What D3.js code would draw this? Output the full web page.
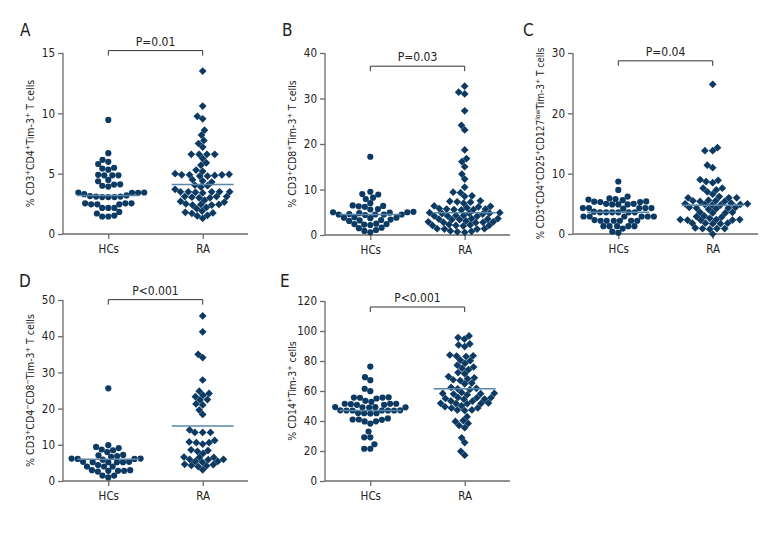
<!DOCTYPE html>
<html><head><meta charset="utf-8">
<script src="https://cdn.jsdelivr.net/npm/d3@7"></script>
<style>
body{margin:0;background:#fff;}
svg text{font-family:'Liberation Sans Narrow','DejaVu Sans Condensed','Roboto Condensed',sans-serif;fill:#222;}
</style></head>
<body><svg id="c" width="780" height="540"></svg>
<script>
const categories = ["HCs","RA"];
const panelLetters = ["A","B","C","D","E"];
const yMax = [15,40,30,50,120];
const yTicks = [[0,5,10,15],[0,10,20,30,40],[0,10,20,30],[0,10,20,30,40,50],[0,20,40,60,80,100,120]];
const pLabels = ["P=0.01","P=0.03","P=0.04","P<0.001","P<0.001"];
const yTitles = [
  "% CD3^{+}CD4^{+}Tim-3^{+} T cells",
  "% CD3^{+}CD8^{+}Tim-3^{+} T cells",
  "% CD3^{+}CD4^{+}CD25^{+}CD127^{low}Tim-3^{+} T cells",
  "% CD3^{+}CD4^{−}CD8^{−}Tim-3^{+} T cells",
  "% CD14^{+}Tim-3^{+} cells"
];
const medianHCs = [3.2,4.5,3.6,6.0,47];
const medianRA = [4.1,4.9,4.75,15.2,61.5];
const bracketY = [15.2,37.1,28.7,50.1,116];

const aHCs = [9.45,6.7,6.15,5.98,5.8,5.43,5.49,5.33,4.86,4.86,4.86,4.9,4.48,4.37,4.12,4.0,4.1,3.93,3.44,3.44,3.42,3.42,3.14,3.1,3.06,3.06,3.2,3.3,3.06,3.1,2.54,2.46,2.54,2.46,2.54,2.46,2.16,2.16,2.16,1.83,1.7,1.53,1.45,1.45];
const aRA = [13.5,10.6,9.75,9.55,8.6,8.2,7.75,7.5,7.2,6.6,6.6,6.6,6.6,6.25,5.9,5.7,5.3,5.2,5.0,4.95,4.9,4.9,4.85,4.8,4.8,4.9,4.5,4.4,4.3,4.05,4.0,3.9,3.7,3.5,3.5,3.5,3.45,3.4,3.5,3.5,3.1,3.1,3.05,3.0,3.0,3.1,2.8,2.7,2.65,2.5,2.45,2.45,2.4,2.4,2.2,2.1,1.9,1.8,1.75,1.7,1.55,1.5,1.3];
const bHCs = [17.2,9.5,9.0,8.9,8.2,7.9,7.0,6.5,6.3,6.4,6.2,5.7,5.6,5.0,5.0,4.9,4.8,5.1,4.6,4.5,4.5,4.5,4.4,4.5,3.9,3.8,3.7,3.8,3.3,3.2,3.1,3.4,2.5,2.3,2.4,2.2,2.4,1.5,1.6,0.9,0.6,1.1];
const bRA = [32.7,31.4,31.0,27.3,24.1,23.1,18.7,16.8,16.1,15.0,13.4,12.3,10.5,9.4,9.3,8.6,8.5,7.5,7.3,7.2,7.4,7.0,6.4,6.3,6.2,6.0,5.7,5.6,5.7,5.6,5.5,5.8,4.9,4.8,4.8,4.7,4.9,4.6,4.3,4.2,4.3,4.2,4.1,3.6,3.5,3.5,3.4,3.6,3.4,2.9,2.8,2.8,2.7,2.9,3.1,2.1,2.1,2.0,2.1,2.2,1.4,1.3,1.3,1.4,2.3,0.8,0.7,0.6,0.9];
const cHCs = [8.7,7.3,6.2,5.9,5.8,5.7,5.6,5.4,5.3,5.35,5.3,4.9,4.9,5.0,5.0,4.9,4.3,4.3,4.3,4.2,4.3,4.3,3.6,3.6,3.6,3.6,3.7,3.6,3.6,2.9,2.9,2.9,2.9,2.9,2.9,2.2,2.2,2.2,2.2,2.2,2.2,2.3,1.3,1.3,1.3,1.3,1.3,0.9,0.4,0.2];
const cRA = [24.8,14.3,13.8,13.8,11.4,11.0,9.0,8.9,8.7,8.5,7.6,7.6,7.3,7.0,6.6,6.2,6.0,6.0,6.0,5.6,5.5,5.4,5.5,5.4,5.0,5.0,4.8,4.9,4.8,4.9,5.1,4.4,4.3,4.2,4.1,4.3,4.4,3.6,3.5,3.5,3.6,3.0,2.9,2.8,2.6,2.4,2.3,2.4,2.3,2.4,2.3,1.8,1.8,1.7,1.7,1.8,1.0,0.9,0.9,0.8,0.9,0.0];
const dHCs = [25.6,9.9,9.4,9.1,8.5,8.0,8.7,7.1,6.7,6.9,7.2,6.2,6.1,5.9,6.1,6.2,5.2,5.3,5.2,5.2,5.2,5.3,4.0,4.0,4.4,4.0,2.8,2.6,2.8,2.8,3.0,3.0,1.5,1.0,1.5];
const dRA = [45.6,41.2,35.0,34.1,27.9,24.8,24.2,23.7,23.3,22.5,22.4,21.3,21.0,19.6,18.4,14.1,13.4,13.4,13.4,11.2,10.6,10.6,10.2,10.8,8.4,8.6,8.2,7.6,6.5,6.0,6.0,5.9,6.5,6.6,5.4,5.4,5.2,4.5,4.0,4.2,4.3,4.6,3.1];
const eHCs = [76.3,69.2,67.2,61.5,59.9,55.8,55.5,55.0,55.6,55.6,53.5,52.8,51.5,50.8,50.8,51.5,51.2,51.5,49.1,49.2,49.0,49.1,49.3,47.0,47.0,47.1,47.0,47.0,47.1,47.0,45.2,45.3,45.2,45.0,41.7,41.0,41.0,39.8,39.7,40.8,38.3,33.0,29.1,29.1,24.5,21.5,21.5];
const eRA = [96.7,95.6,94.6,91.4,90.7,89.6,84.0,83.3,83.5,83.0,80.2,80.6,78.5,77.2,76.0,75.2,74.2,72.3,71.5,69.6,68.8,68.1,67.5,67.0,65.3,64.8,62.4,61.5,61.8,61.0,58.4,58.2,58.5,58.0,57.5,59.0,55.5,55.5,55.0,53.2,53.4,54.5,54.6,55.7,52.0,51.8,51.6,51.5,51.7,49.5,48.7,48.6,50.1,47.3,47.4,47.0,42.9,39.7,40.3,38.4,37.0,35.5,28.8,25.6,19.8,17.2];
const seriesHCs = [aHCs,bHCs,cHCs,dHCs,eHCs];
const seriesRA = [aRA,bRA,cRA,dRA,eRA];

// layout
const axisX = [63,325,573,63,325];
const topY = [53,53,53,300,301];
const botY = [234,235,234,481,481];
const letterX = [20,282,523,19,280];
const letterY = [36,36,36,287,287];
const titleSize = [10.5,10.5,10,10.5,10.5];
const axisLen = 185;
const dotColor = "#0c3a62", medColor = "#5a86a8", axisColor = "#6b6b6b";
const svg = d3.select("#c");

// beeswarm: metric "l2" for circles, "l1" for diamonds
function swarm(vals, y, D, metric){
  const pts = vals.map(v=>({v, y:y(v)})).sort((a,b)=>b.y-a.y);
  const placed=[];
  const sep = dy => metric==="l1" ? D-Math.abs(dy) : Math.sqrt(D*D-dy*dy);
  for(const p of pts){
    const near = placed.filter(q=>Math.abs(q.y-p.y)<D);
    const cands=[0];
    near.forEach(q=>{const dx=sep(q.y-p.y); cands.push(q.x+dx+0.01,q.x-dx-0.01);});
    cands.sort((a,b)=>Math.abs(a)-Math.abs(b) || a-b);
    for(const c of cands){
      if(near.every(q=>Math.abs(q.x-c) >= sep(q.y-p.y)-0.05)){p.x=c;break;}
    }
    placed.push(p);
  }
  return placed;
}

function richText(sel, str, fs){
  const parts = str.split(/(\^\{[^}]*\})/).filter(s=>s.length);
  parts.forEach(s=>{
    if(s.startsWith("^{")){
      sel.append("tspan").attr("font-size", fs*0.68).attr("baseline-shift","super").text(s.slice(2,-1));
    } else sel.append("tspan").attr("font-size", fs).text(s);
  });
}

for(let i=0;i<5;i++){
  const g = svg.append("g").attr("transform",`translate(${axisX[i]},0)`);
  const y = d3.scaleLinear().domain([0,yMax[i]]).range([botY[i],topY[i]]);
  const x = d3.scalePoint().domain(categories).range([0,axisLen]).padding(0.48);

  const ya = g.append("g").call(d3.axisLeft(y).tickValues(yTicks[i]).tickSize(5).tickPadding(3));
  const xa = g.append("g").attr("transform",`translate(0,${botY[i]})`).call(d3.axisBottom(x).tickSize(5).tickPadding(6));
  [ya,xa].forEach(a=>{
    a.select(".domain").attr("stroke",axisColor).attr("stroke-width",1.3);
    a.selectAll(".tick line").attr("stroke",axisColor).attr("stroke-width",1.3);
    a.selectAll("text").attr("font-size",11.5).attr("fill","#222")
      .style("font-family","'Liberation Sans Narrow','DejaVu Sans Condensed',sans-serif");
  });
  xa.select(".domain").attr("d",`M0,0H${axisLen}`);
  ya.select(".domain").attr("d",`M0,${botY[i]}V${topY[i]}`);

  svg.append("text").attr("x",letterX[i]).attr("y",letterY[i]).attr("font-size",17).text(panelLetters[i]);

  const yt = g.append("text").attr("transform",`translate(-29,${(topY[i]+botY[i])/2}) rotate(-90)`)
    .attr("text-anchor","middle").attr("font-size",titleSize[i]);
  richText(yt, yTitles[i], titleSize[i]);

  const by = y(bracketY[i]);
  g.append("path").attr("d",`M${x("HCs")},${by+5}V${by}H${x("RA")}V${by+5}`)
    .attr("fill","none").attr("stroke","#333").attr("stroke-width",1);
  g.append("text").attr("x",(x("HCs")+x("RA"))/2).attr("y",by-5).attr("text-anchor","middle")
    .attr("font-size",12).text(pLabels[i]);

  const hc = swarm(seriesHCs[i], y, 6.1, "l2");
  g.selectAll(".hc").data(hc).join("circle").attr("cx",d=>x("HCs")+d.x).attr("cy",d=>d.y).attr("r",3.1).attr("fill",dotColor);
  const ra = swarm(seriesRA[i], y, 7.8, "l1");
  g.selectAll(".ra").data(ra).join("path").attr("d",d3.symbol(d3.symbolSquare,30))
    .attr("transform",d=>`translate(${x("RA")+d.x},${d.y}) rotate(45)`).attr("fill",dotColor);

  g.append("line").attr("x1",x("HCs")-31).attr("x2",x("HCs")+31).attr("y1",y(medianHCs[i])).attr("y2",y(medianHCs[i]))
    .attr("stroke",medColor).attr("stroke-width",1.5);
  g.append("line").attr("x1",x("RA")-31).attr("x2",x("RA")+31).attr("y1",y(medianRA[i])).attr("y2",y(medianRA[i]))
    .attr("stroke",medColor).attr("stroke-width",1.5);
}
</script></body></html>
